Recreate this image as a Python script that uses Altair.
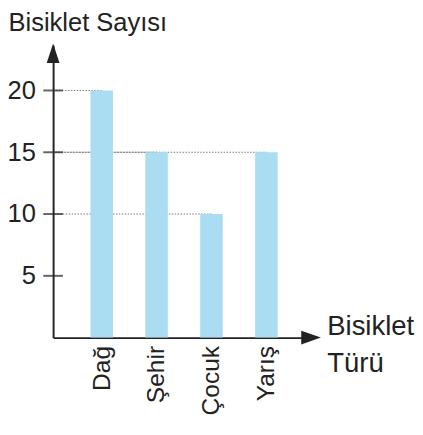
import altair as alt
import pandas as pd

types = ["Dağ", "Şehir", "Çocuk", "Yarış"]
counts = [20, 15, 10, 15]
tick_values = [5, 10, 15, 20]

FONT = "Liberation Sans"
INK = "#222222"

bars_df = pd.DataFrame({"type": types, "count": counts})
ticks_df = pd.DataFrame({"v": tick_values})

W, H = 267, 298

x_enc = alt.X(
    "type:N",
    sort=None,
    scale=alt.Scale(paddingInner=0.59, paddingOuter=0.68),
    axis=alt.Axis(
        title=["Bisiklet", "Türü"],
        titleX=279, titleY=-3, titleAlign="left", titleBaseline="alphabetic",
        titleLineHeight=38, titleFont=FONT, titleFontSize=28, titleFontWeight="normal",
        titleColor=INK,
        labelAngle=-90, labelFont=FONT, labelFontSize=25, labelColor=INK,
        labelPadding=8, ticks=False, domainColor=INK, domainWidth=2,
    ),
)
y_scale = alt.Scale(domain=[0, 23.65], nice=False, zero=True)
y_enc = alt.Y(
    "count:Q",
    scale=y_scale,
    axis=alt.Axis(
        title="Bisiklet Sayısı",
        titleAngle=0, titleX=-46, titleY=-15, titleAlign="left", titleBaseline="alphabetic",
        titleFont=FONT, titleFontSize=26, titleFontWeight="normal", titleColor=INK,
        values=tick_values, ticks=False, grid=False, labelPadding=18,
        labelFont=FONT, labelFontSize=26, labelColor=INK,
        domainColor=INK, domainWidth=2,
    ),
)

grid = alt.Chart(bars_df).mark_rule(color="#777777", strokeWidth=1, strokeDash=[1.5, 1.5]).encode(
    x=x_enc, x2=alt.value(0), y=y_enc
)
bars = alt.Chart(bars_df).mark_bar(color="#aadcf2").encode(x=x_enc, y=y_enc)

ticks = alt.Chart(ticks_df).mark_tick(orient="horizontal", color=INK, size=20, thickness=2).encode(
    y=alt.Y("v:Q", scale=y_scale), x=alt.value(0)
)

one = pd.DataFrame({"a": [0]})
y_arrow = alt.Chart(one).mark_point(
    shape="M0,-1L0.65,1L-0.65,1Z", filled=True, color=INK, opacity=1, size=400
).encode(x=alt.value(0), y=alt.value(8))
x_arrow = alt.Chart(one).mark_point(
    shape="M1,0L-1,0.7L-1,-0.7Z", filled=True, color=INK, opacity=1, size=400
).encode(x=alt.value(263), y=alt.value(H))

chart = alt.layer(grid, bars, ticks, y_arrow, x_arrow).properties(
    width=W, height=H,
    autosize=alt.AutoSizeParams(type="none"),
    padding={"left": 46, "top": 34, "right": 102, "bottom": 85},
).configure_view(stroke=None)

chart.save("out.html", embed_options={"renderer": "svg", "actions": False})
